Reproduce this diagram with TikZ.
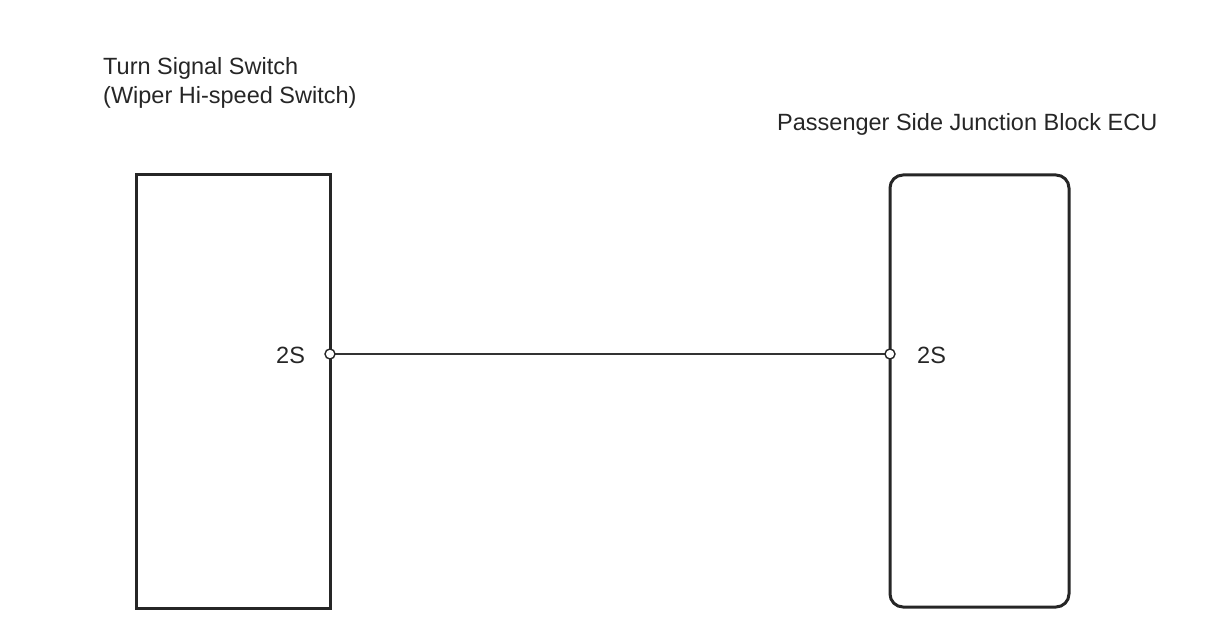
\documentclass[tikz,border=0pt]{standalone}
\usepackage{fontspec}
\setmainfont{Liberation Sans}
\begin{document}
\begin{tikzpicture}[x=1pt,y=-1pt,
  lbl/.style={inner sep=0pt,anchor=base west,font=\fontsize{23.5}{28}\selectfont,text=black!85},
  unit/.style={draw=black!85,line width=3pt},
  wire/.style={draw=black!80,line width=1.6pt},
  pin/.style={circle,draw=black!85,fill=white,line width=1.4pt,minimum size=10pt,inner sep=0pt}]
\useasboundingbox (0,0) rectangle (1208,644);
\node[lbl] (t1) at (103,75) {Turn Signal Switch};
\node[lbl] (t2) at (103,104) {(Wiper Hi-speed Switch)};
\node[lbl] (t3) at (777,131) {Passenger Side Junction Block ECU};
\draw[unit] (136,175) rectangle (330,608);
\draw[unit,rounded corners=13pt] (890,175) rectangle (1069,607);
\coordinate (pa) at (330,354);
\coordinate (pb) at (890,354);
\draw[wire] (pa) -- (pb);
\node[pin] (ca) at (pa) {};
\node[pin] (cb) at (pb) {};
\node[lbl] (la) at (276,363) {2S};
\node[lbl] (lb) at (917,363) {2S};
\end{tikzpicture}
\end{document}
